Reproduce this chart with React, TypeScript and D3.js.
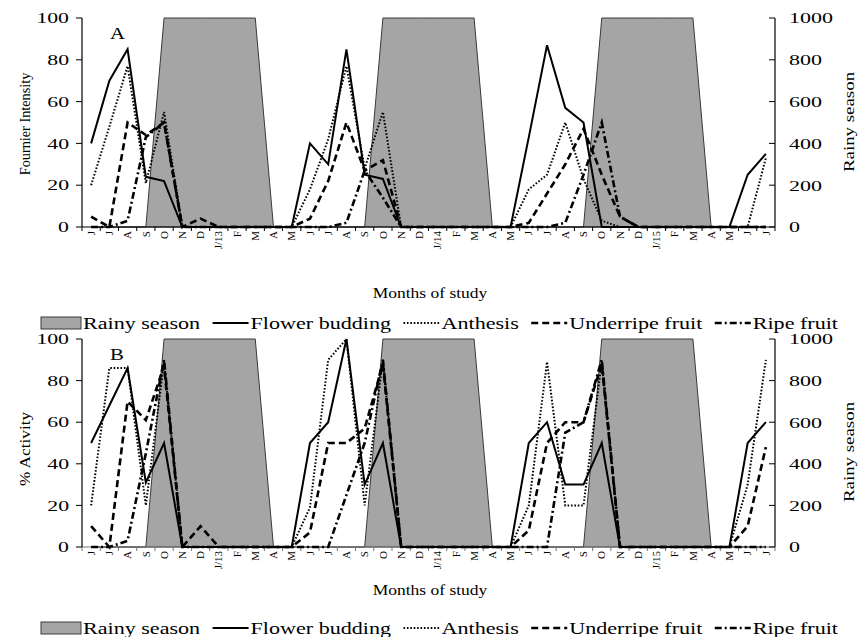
import React, { useEffect, useRef } from "react";
import * as d3 from "d3";

// months of study, Jun 2012 - Jul 2015
const months = [
  "J", "J", "A", "S", "O", "N", "D", "J/13", "F", "M", "A", "M",
  "J", "J", "A", "S", "O", "N", "D", "J/14", "F", "M", "A", "M",
  "J", "J", "A", "S", "O", "N", "D", "J/15", "F", "M", "A", "M",
  "J", "J",
];

// rainy season (right axis, 0-1000)
const rainySeason = [
  0, 0, 0, 0, 1000, 1000, 1000, 1000, 1000, 1000, 0, 0,
  0, 0, 0, 0, 1000, 1000, 1000, 1000, 1000, 1000, 0, 0,
  0, 0, 0, 0, 1000, 1000, 1000, 1000, 1000, 1000, 0, 0,
  0, 0,
];

// Panel A - Fournier intensity
const buddingA = [
  40, 70, 85, 24, 22, 0, 0, 0, 0, 0, 0, 0,
  40, 30, 85, 25, 23, 0, 0, 0, 0, 0, 0, 0,
  43, 87, 57, 50, 0, 0, 0, 0, 0, 0, 0, 0,
  25, 35,
];
const anthesisA = [
  20, 48, 77, 21, 55, 0, 0, 0, 0, 0, 0, 0,
  18, 42, 77, 28, 55, 0, 0, 0, 0, 0, 0, 0,
  18, 25, 50, 23, 3, 0, 0, 0, 0, 0, 0, 0,
  0, 33,
];
const underripeA = [
  5, 0, 50, 44, 50, 0, 4, 0, 0, 0, 0, 0,
  4, 22, 50, 27, 32, 0, 0, 0, 0, 0, 0, 0,
  2, 16, 30, 47, 25, 5, 0, 0, 0, 0, 0, 0,
  0, 0,
];
const ripeA = [
  0, 0, 3, 43, 50, 0, 0, 0, 0, 0, 0, 0,
  0, 0, 2, 27, 14, 0, 0, 0, 0, 0, 0, 0,
  0, 0, 2, 25, 50, 5, 0, 0, 0, 0, 0, 0,
  0, 0,
];

// Panel B - % activity
const buddingB = [
  50, 68, 86, 31, 50, 0, 0, 0, 0, 0, 0, 0,
  50, 60, 100, 30, 50, 0, 0, 0, 0, 0, 0, 0,
  50, 60, 30, 30, 50, 0, 0, 0, 0, 0, 0, 0,
  50, 60,
];
const anthesisB = [
  20, 86, 86, 20, 89, 0, 0, 0, 0, 0, 0, 0,
  19, 90, 100, 20, 90, 0, 0, 0, 0, 0, 0, 0,
  20, 89, 20, 20, 89, 0, 0, 0, 0, 0, 0, 0,
  30, 90,
];
const underripeB = [
  10, 0, 70, 61, 87, 0, 10, 0, 0, 0, 0, 0,
  7, 50, 50, 57, 88, 0, 0, 0, 0, 0, 0, 0,
  8, 50, 60, 60, 88, 0, 0, 0, 0, 0, 0, 0,
  10, 48,
];
const ripeB = [
  0, 0, 3, 45, 90, 0, 0, 0, 0, 0, 0, 0,
  0, 0, 25, 50, 90, 0, 0, 0, 0, 0, 0, 0,
  0, 0, 55, 60, 90, 0, 0, 0, 0, 0, 0, 0,
  0, 0,
];

const leftTicks = [0, 20, 40, 60, 80, 100];
const rightTicks = [0, 200, 400, 600, 800, 1000];
const legendNames = ["Rainy season", "Flower budding", "Anthesis", "Underripe fruit", "Ripe fruit"];

const FONT = "'Liberation Serif', 'Times New Roman', serif";

// index 0 is the rainy season box, 1-4 the phenophase lines
const lineStyles: { dash: string | null; width: number }[] = [
  { dash: null, width: 2 },
  { dash: "1.6,1.8", width: 2 },
  { dash: "7,4", width: 2.6 },
  { dash: "7,3,2,3", width: 2.6 },
];

type Sel = d3.Selection<SVGGElement, unknown, null, undefined>;

// text that is wider along its reading direction, like the original figure
const addText = (
  g: Sel,
  x: number,
  y: number,
  str: string,
  opts: { size: number; sx?: number; anchor?: string; rotate?: number; dy?: string }
) =>
  g
    .append("text")
    .attr(
      "transform",
      `translate(${x},${y}) rotate(${opts.rotate || 0}) scale(${opts.sx || 1},1)`
    )
    .attr("text-anchor", opts.anchor || "start")
    .attr("dy", opts.dy || "0.35em")
    .attr("font-family", FONT)
    .attr("font-size", opts.size)
    .attr("fill", "#000")
    .text(str);

const drawLegend = (root: d3.Selection<SVGSVGElement, unknown, null, undefined>, ly: number) => {
  const lg = root.append("g") as Sel;
  const x0 = 41;
  const x1 = 838;
  const sx = 1.3;
  const size = 17;
  const symW = [40, 36, 36, 36, 36];
  const innerGap = 2;

  const texts = legendNames.map((n) => addText(lg, 0, ly, n, { size, sx }));
  const widths = texts.map((t) => (t.node() as SVGTextElement).getComputedTextLength() * sx);
  const natural = d3.sum(symW) + d3.sum(widths) + innerGap * symW.length;
  const between = Math.max(4, (x1 - x0 - natural) / (symW.length - 1));

  let cur = x0;
  legendNames.forEach((_, k) => {
    if (k === 0) {
      lg.append("rect")
        .attr("x", cur)
        .attr("y", ly - 6)
        .attr("width", symW[k])
        .attr("height", 12)
        .attr("fill", "#a5a5a5")
        .attr("stroke", "#3a3a3a")
        .attr("stroke-width", 1);
    } else {
      const st = lineStyles[k - 1];
      const l = lg
        .append("line")
        .attr("x1", cur)
        .attr("x2", cur + symW[k])
        .attr("y1", ly)
        .attr("y2", ly)
        .attr("stroke", "#000")
        .attr("stroke-width", st.width);
      if (st.dash) l.attr("stroke-dasharray", st.dash);
    }
    cur += symW[k] + innerGap;
    texts[k].attr("transform", `translate(${cur},${ly}) scale(${sx},1)`);
    cur += widths[k] + between;
  });
};

const drawPanel = (
  root: d3.Selection<SVGSVGElement, unknown, null, undefined>,
  cfg: {
    top: number;
    bottom: number;
    letter: string;
    yTitle: string;
    yTitleSize: number;
    yTitleSx: number;
    yTitleY: number;
    rTitleY: number;
    series: number[][];
    xAxisColor: string;
    studyY: number;
    legendY: number;
  }
) => {
  const left = 82;
  const right = 775;
  const g = root.append("g") as Sel;

  const x = d3
    .scaleBand<number>()
    .domain(d3.range(months.length))
    .range([left, right]);
  const cx = (i: number) => (x(i) || 0) + x.bandwidth() / 2;
  const yL = d3.scaleLinear().domain([0, 100]).range([cfg.bottom, cfg.top]);
  const yR = d3.scaleLinear().domain([0, 1000]).range([cfg.bottom, cfg.top]);

  // rainy season area
  const area = d3
    .area<number>()
    .x((_, i) => cx(i))
    .y0(cfg.bottom)
    .y1((d) => yR(d));
  g.append("path")
    .attr("d", area(rainySeason) || "")
    .attr("fill", "#a5a5a5")
    .attr("stroke", "#3a3a3a")
    .attr("stroke-width", 1);

  // x axis line + ticks between categories
  g.append("line")
    .attr("x1", left)
    .attr("x2", right)
    .attr("y1", cfg.bottom)
    .attr("y2", cfg.bottom)
    .attr("stroke", cfg.xAxisColor)
    .attr("stroke-width", 1.2);
  g.selectAll(".xtick")
    .data(d3.range(months.length + 1))
    .enter()
    .append("line")
    .attr("x1", (i) => left + i * x.bandwidth())
    .attr("x2", (i) => left + i * x.bandwidth())
    .attr("y1", cfg.bottom)
    .attr("y2", cfg.bottom + 4)
    .attr("stroke", cfg.xAxisColor)
    .attr("stroke-width", 1);

  // series lines
  const line = d3
    .line<number>()
    .x((_, i) => cx(i))
    .y((d) => yL(d));
  cfg.series.forEach((s, k) => {
    const p = g
      .append("path")
      .attr("d", line(s) || "")
      .attr("fill", "none")
      .attr("stroke", "#000")
      .attr("stroke-width", lineStyles[k].width)
      .attr("stroke-linejoin", "miter");
    if (lineStyles[k].dash) p.attr("stroke-dasharray", lineStyles[k].dash as string);
  });

  // left axis
  g.append("line")
    .attr("x1", left)
    .attr("x2", left)
    .attr("y1", cfg.top)
    .attr("y2", cfg.bottom)
    .attr("stroke", "#000")
    .attr("stroke-width", 1.2);
  leftTicks.forEach((v) => {
    g.append("line")
      .attr("x1", left - 6)
      .attr("x2", left)
      .attr("y1", yL(v))
      .attr("y2", yL(v))
      .attr("stroke", "#000");
    addText(g, 69, yL(v), String(v), { size: 15, sx: 1.45, anchor: "end" });
  });

  // right axis
  g.append("line")
    .attr("x1", right)
    .attr("x2", right)
    .attr("y1", cfg.top)
    .attr("y2", cfg.bottom)
    .attr("stroke", "#000")
    .attr("stroke-width", 1.2);
  rightTicks.forEach((v) => {
    g.append("line")
      .attr("x1", right - 6)
      .attr("x2", right)
      .attr("y1", yR(v))
      .attr("y2", yR(v))
      .attr("stroke", "#000");
    addText(g, 789, yR(v), String(v), { size: 15.5, sx: 1.42, anchor: "start" });
  });

  // month labels
  months.forEach((m, i) => {
    addText(g, cx(i), cfg.bottom + 4, m, {
      size: 10.5,
      sx: 1.05,
      anchor: "end",
      rotate: -90,
    });
  });

  // titles
  addText(g, 25, cfg.yTitleY, cfg.yTitle, {
    size: cfg.yTitleSize,
    sx: cfg.yTitleSx,
    anchor: "middle",
    rotate: -90,
  });
  addText(g, 849, cfg.rTitleY, "Rainy season", {
    size: 14,
    sx: 1.35,
    anchor: "middle",
    rotate: -90,
  });
  addText(g, 110, cfg.top + 15, cfg.letter, { size: 16, sx: 1.3 });
  addText(g, 430, cfg.studyY, "Months of study", { size: 14, sx: 1.25, anchor: "middle" });

  drawLegend(root, cfg.legendY);
};

const App: React.FC = () => {
  const svgRef = useRef<SVGSVGElement>(null);

  useEffect(() => {
    if (!svgRef.current) return;
    const svg = d3.select(svgRef.current);
    svg.selectAll("*").remove();

    svg.append("rect").attr("width", 858).attr("height", 637).attr("fill", "#fff");

    drawPanel(svg, {
      top: 18,
      bottom: 227,
      letter: "A",
      yTitle: "Fournier Intensity",
      yTitleSize: 14,
      yTitleSx: 1.02,
      yTitleY: 124,
      rTitleY: 122,
      series: [buddingA, anthesisA, underripeA, ripeA],
      xAxisColor: "#000",
      studyY: 293,
      legendY: 323,
    });

    drawPanel(svg, {
      top: 339,
      bottom: 547,
      letter: "B",
      yTitle: "% Activity",
      yTitleSize: 15,
      yTitleSx: 1.15,
      yTitleY: 449,
      rTitleY: 452,
      series: [buddingB, anthesisB, underripeB, ripeB],
      xAxisColor: "#777",
      studyY: 590,
      legendY: 628,
    });
  }, []);

  return (
    <div style={{ position: "absolute", left: 0, top: 0 }}>
      <svg ref={svgRef} width={858} height={637} style={{ display: "block" }}></svg>
    </div>
  );
};

export default App;
